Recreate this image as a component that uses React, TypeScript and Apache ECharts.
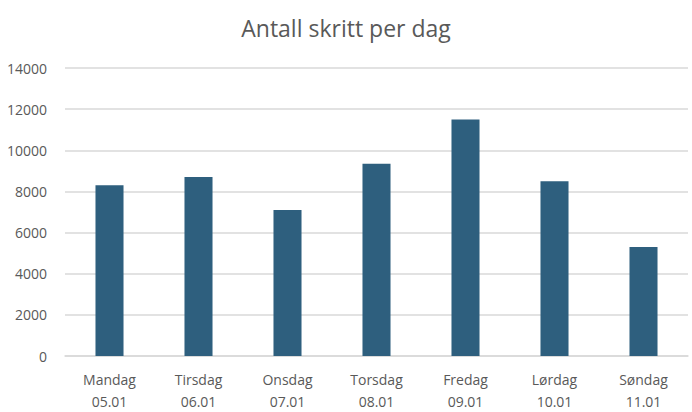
import { useEffect, useRef } from "react";
import * as echarts from "echarts";

const days = [
  "Mandag\n05.01",
  "Tirsdag\n06.01",
  "Onsdag\n07.01",
  "Torsdag\n08.01",
  "Fredag\n09.01",
  "Lørdag\n10.01",
  "Søndag\n11.01",
];
const steps = [8300, 8700, 7100, 9350, 11500, 8500, 5300];

const FONT = "'Open Sans', sans-serif";

export default function App() {
  const chartRef = useRef<HTMLDivElement>(null);

  useEffect(() => {
    if (!chartRef.current) return;
    const chart = echarts.init(chartRef.current, undefined, { renderer: "svg" });

    chart.setOption({
      animation: false,
      title: {
        text: "Antall skritt per dag",
        left: "center",
        top: 11,
        textStyle: {
          fontFamily: FONT,
          fontSize: 23,
          fontWeight: "normal",
          color: "#595959",
        },
      },
      grid: { left: 65, right: 4, top: 68, bottom: 55 },
      xAxis: {
        type: "category",
        data: days,
        axisLine: { lineStyle: { color: "#d9d9d9", width: 1.5 } },
        axisTick: { show: false },
        axisLabel: {
          fontFamily: FONT,
          fontSize: 14,
          color: "#595959",
          lineHeight: 22,
          margin: 12,
          interval: 0,
        },
      },
      yAxis: {
        type: "value",
        min: 0,
        max: 14000,
        interval: 2000,
        axisLine: { show: false },
        axisTick: { show: false },
        axisLabel: {
          fontFamily: FONT,
          fontSize: 14,
          color: "#595959",
          margin: 18,
          formatter: (v: number) => String(v),
        },
        splitLine: { lineStyle: { color: "#d9d9d9", width: 1.5 } },
      },
      series: [
        {
          type: "bar",
          data: steps,
          barWidth: "31.5%",
          itemStyle: { color: "#2e5f7e" },
        },
      ],
    });

    return () => chart.dispose();
  }, []);

  return (
    <div
      ref={chartRef}
      style={{ position: "absolute", left: 0, top: 0, width: 692, height: 412 }}
    />
  );
}
